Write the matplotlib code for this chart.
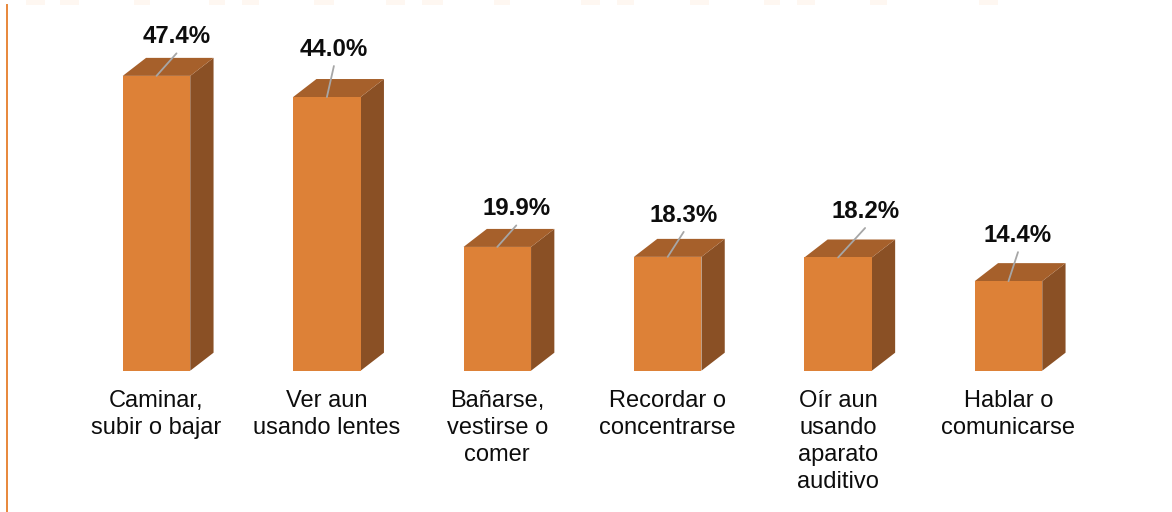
import matplotlib
matplotlib.use("Agg")
import matplotlib.pyplot as plt
from matplotlib.patches import Polygon, Rectangle

# ---- data ----
categories = [
    "Caminar,\nsubir o bajar",
    "Ver aun\nusando lentes",
    "Bañarse,\nvestirse o\ncomer",
    "Recordar o\nconcentrarse",
    "Oír aun\nusando\naparato\nauditivo",
    "Hablar o\ncomunicarse",
]
values = [47.4, 44.0, 19.9, 18.3, 18.2, 14.4]
value_labels = ["47.4%", "44.0%", "19.9%", "18.3%", "18.2%", "14.4%"]

# ---- style ----
# label offsets (pixels) of label centre relative to bar centre / front top
label_dx = [20, 7, 19, 16, 27, 9.5]
label_dy = [39, 47.5, 38, 41.5, 46, 45.5]

FRONT = "#DD8137"
TOP = "#A6602B"
SIDE = "#8A5025"
LEADER = "#A6A6A6"
TXT = "#0D0D0D"

plt.rcParams['font.family'] = ['Liberation Sans', 'DejaVu Sans']

W, H = 1172, 512
fig = plt.figure(figsize=(W / 100, H / 100), dpi=100)

px_per_unit = 6.22
axis_bottom_px = 370.7
left_px, right_px = 71.3, 1093.7
ax = fig.add_axes([left_px / W, (H - axis_bottom_px) / H,
                   (right_px - left_px) / W, axis_bottom_px / H])
ax.set_xlim(-0.5, 5.5)
ax.set_ylim(0, axis_bottom_px / px_per_unit)

unit_px_x = (right_px - left_px) / 6.0
bw = 67.5 / unit_px_x
ddx = 23.3 / unit_px_x
ddy = 18.0 / px_per_unit

x = list(range(len(values)))
ax.bar(x, values, width=bw, color=FRONT, edgecolor="none", zorder=3)
for i, v in zip(x, values):
    r = i + bw / 2
    l = i - bw / 2
    ax.add_patch(Polygon([(r, 0), (r + ddx, ddy), (r + ddx, v + ddy), (r, v)],
                         closed=True, facecolor=SIDE, edgecolor="none", zorder=2))
    ax.add_patch(Polygon([(l, v), (l + ddx, v + ddy), (r + ddx, v + ddy), (r, v)],
                         closed=True, facecolor=TOP, edgecolor="none", zorder=2))

for i, v, lab, dx, dy in zip(x, values, value_labels, label_dx, label_dy):
    ax.annotate("", xy=(i, v), xytext=(dx, dy - 16.5), textcoords="offset pixels",
                arrowprops=dict(arrowstyle="-", color=LEADER, lw=1.3,
                                shrinkA=0, shrinkB=0), zorder=4)
    ax.annotate(lab, xy=(i, v), xytext=(dx, dy), textcoords="offset pixels",
                ha="center", va="center", fontsize=17.3, fontweight="bold",
                color=TXT, zorder=5)

ax.set_xticks(x)
ax.set_xticklabels(categories, fontsize=17, color=TXT, linespacing=1.30)
ax.tick_params(axis="x", length=0, pad=14)
ax.set_yticks([])
for s in ax.spines.values():
    s.set_visible(False)

# decorative left orange line
fig.add_artist(plt.Line2D([6.5 / W, 6.5 / W], [0, 1 - 5 / H],
                          transform=fig.transFigure, color="#E8873A", lw=1.4))
# faint top stripe blocks
stripe = [(26, 45), (60, 79), (134, 150), (209, 225), (242, 259), (314, 334),
          (386, 405), (422, 443), (494, 510), (581, 600), (617, 634), (690, 709),
          (764, 780), (797, 815), (870, 887), (979, 998)]
for a, b in stripe:
    fig.add_artist(Rectangle((a / W, 1 - 5 / H), (b - a) / W, 5 / H,
                             transform=fig.transFigure, facecolor="#FEF7F1",
                             edgecolor="none"))

fig.savefig("out.png", dpi=100)
